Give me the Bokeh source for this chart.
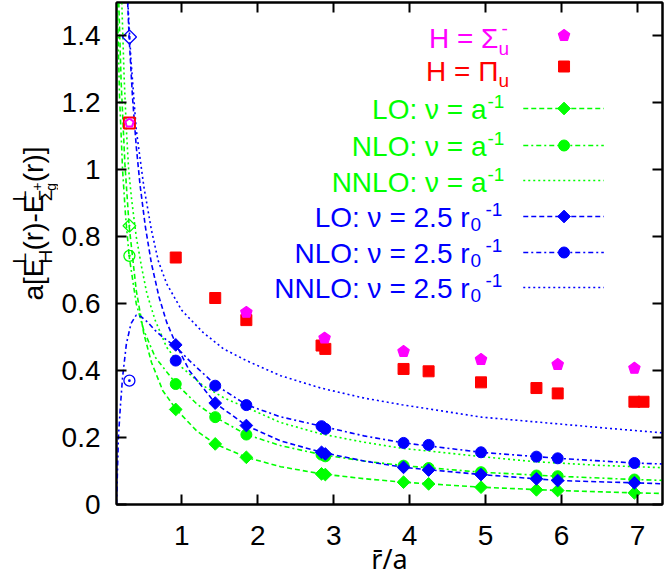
import numpy as np
from bokeh.plotting import figure
from bokeh.layouts import row
from bokeh.models import Label, LinearAxis, FixedTicker, Range1d
from bokeh.embed import file_html
from bokeh.resources import INLINE

# ---------------- data ----------------
r_pts = [0.92, 1.44, 1.85, 2.84, 2.89, 3.92, 4.25, 4.94, 5.67, 5.95, 6.96, 7.08]
pi_u = [0.738, 0.617, 0.551, 0.475, 0.465, 0.405, 0.398, 0.365, 0.348, 0.332, 0.307, 0.307]
r_sig = [1.85, 2.88, 3.92, 4.94, 5.95, 6.96]
sigma_u = [0.574, 0.497, 0.457, 0.433, 0.418, 0.407]

r_pert = [0.92, 1.44, 1.85, 2.84, 2.89, 3.92, 4.25, 4.94, 5.67, 5.95, 6.96]
lo_a = [0.284, 0.181, 0.141, 0.0915, 0.0895, 0.0667, 0.0617, 0.0517, 0.0438, 0.0418, 0.0348]
nlo_a = [0.360, 0.261, 0.209, 0.149, 0.144, 0.116, 0.109, 0.0965, 0.0866, 0.0845, 0.0746]
lo_r0 = [0.477, 0.303, 0.236, 0.156, 0.151, 0.111, 0.103, 0.0895, 0.0766, 0.0716, 0.0647]
nlo_r0 = [0.430, 0.355, 0.297, 0.234, 0.226, 0.184, 0.178, 0.156, 0.143, 0.138, 0.124]

r_small = [0.31]
pi_small = [1.14]
sig_small = [1.14]
lo_a_small = [0.833]
nlo_a_small = [0.743]
lo_r0_small = [1.397]
nlo_r0_small = [0.370]

c_lo_a_x = [0.17, 0.2, 0.25, 0.306, 0.4, 0.5, 0.6, 0.75, 0.927, 1.2, 1.44, 1.85, 2.3, 2.84, 3.4, 3.92, 4.94, 5.95, 6.96, 7.33]
c_lo_a_y = [1.5, 1.27, 1.02, 0.833, 0.64, 0.51, 0.425, 0.34, 0.284, 0.219, 0.181, 0.141, 0.113, 0.0915, 0.077, 0.0667, 0.0517, 0.0418, 0.0348, 0.033]
c_nlo_a_x = [0.15, 0.18, 0.22, 0.26, 0.306, 0.4, 0.5, 0.65, 0.927, 1.2, 1.44, 1.85, 2.3, 2.84, 3.4, 3.92, 4.94, 5.95, 6.96, 7.33]
c_nlo_a_y = [1.5, 1.22, 1.0, 0.86, 0.743, 0.6, 0.52, 0.44, 0.36, 0.3, 0.261, 0.209, 0.176, 0.149, 0.13, 0.116, 0.0965, 0.0845, 0.0746, 0.072]
c_nnlo_a_x = [0.21, 0.24, 0.27, 0.3, 0.34, 0.40, 0.47, 0.54, 0.65, 0.8, 1.0, 1.28, 1.56, 1.85, 2.3, 2.83, 3.4, 3.9, 4.95, 5.64, 6.5, 7.33]
c_nnlo_a_y = [1.5, 1.28, 1.12, 1.0, 0.91, 0.8, 0.71, 0.63, 0.55, 0.47, 0.41, 0.355, 0.318, 0.29, 0.245, 0.211, 0.186, 0.168, 0.143, 0.128, 0.117, 0.110]
c_lo_r0_x = [0.287, 0.306, 0.35, 0.4, 0.45, 0.52, 0.6, 0.7, 0.8, 0.927, 1.1, 1.44, 1.85, 2.3, 2.84, 3.4, 3.92, 4.94, 5.95, 6.96, 7.33]
c_lo_r0_y = [1.5, 1.397, 1.22, 1.07, 0.955, 0.83, 0.72, 0.62, 0.545, 0.477, 0.40, 0.303, 0.236, 0.19, 0.156, 0.13, 0.111, 0.0895, 0.0716, 0.0647, 0.062]
c_nlo_r0_x = [0.14, 0.15, 0.165, 0.19, 0.22, 0.27, 0.33, 0.40, 0.46, 0.55, 0.65, 0.75, 0.927, 1.1, 1.44, 1.85, 2.3, 2.84, 3.4, 3.92, 4.94, 5.95, 6.96, 7.33]
c_nlo_r0_y = [0.0, 0.08, 0.2, 0.29, 0.38, 0.48, 0.54, 0.566, 0.562, 0.545, 0.52, 0.5, 0.47, 0.43, 0.358, 0.298, 0.262, 0.234, 0.205, 0.184, 0.156, 0.138, 0.124, 0.121]
c_nnlo_r0_x = [0.29, 0.33, 0.4, 0.5, 0.6, 0.69, 0.8, 1.0, 1.28, 1.55, 1.85, 2.3, 2.83, 3.4, 3.9, 4.95, 5.95, 6.6, 7.33]
c_nnlo_r0_y = [1.5, 1.33, 1.12, 0.95, 0.82, 0.728, 0.66, 0.58, 0.514, 0.465, 0.43, 0.385, 0.348, 0.318, 0.298, 0.261, 0.241, 0.228, 0.214]

x_ticks = [1, 2, 3, 4, 5, 6, 7]
y_ticks = [0, 0.2, 0.4, 0.6, 0.8, 1.0, 1.2, 1.4]
y_tick_labels = ["0", "0.2", "0.4", "0.6", "0.8", "1", "1.2", "1.4"]
x_title = "r\u0304/a"

# ---------------- styling ----------------
GREEN = "#00ff00"
BLUE = "#0000ff"
RED = "#ff0000"
MAGENTA = "#ff00ff"
FONT = "Liberation Sans"
FS = 28
SUB = 19
DASH = "5 3"
DASHDOT = "5 3 2 3"
DOT = "2 3"
LW = 1.6

W, H = 664, 581
YL_W = 58          # width of the strip that holds the y title
FL, FR, FT, FB = 113, 662, 2, 504   # frame edges in page pixels
XMIN, XMAX, YMIN, YMAX = 0.14, 7.33, 0.0, 1.5
PXX = (FR - FL) / (XMAX - XMIN)
PXY = (FB - FT) / (YMAX - YMIN)


def X(px):
    return XMIN + (px - FL) / PXX


def Y(py):
    return YMIN + (FB - py) / PXY


p = figure(width=W - YL_W, height=H, output_backend="svg", toolbar_location=None,
           x_range=Range1d(XMIN, XMAX), y_range=Range1d(YMIN, YMAX),
           min_border_left=FL - YL_W, min_border_right=W - FR, min_border_top=FT,
           min_border_bottom=H - FB)
p.grid.visible = False
p.outline_line_color = "black"
p.outline_line_width = 2
p.background_fill_color = "white"
p.border_fill_color = "white"


def style_axis(ax, ticks, labels):
    ax.ticker = FixedTicker(ticks=ticks)
    ax.major_tick_in = 10
    ax.major_tick_out = 0
    ax.minor_tick_line_color = None
    ax.major_tick_line_width = 2
    ax.axis_line_width = 2
    ax.major_label_text_font = FONT
    if labels is None:
        ax.major_label_overrides = {t: "" for t in ticks}
        ax.major_label_text_font_size = "1px"
        ax.major_label_standoff = 0
    else:
        ax.major_label_overrides = {t: s for t, s in zip(ticks, labels)}
        ax.major_label_text_font_size = f"{FS}px"
        ax.major_label_text_color = "black"


xa = p.xaxis[0]
style_axis(xa, x_ticks, [str(t) for t in x_ticks])
xa.major_label_standoff = 21
xa.axis_label = x_title
xa.axis_label_text_font = "Noto Sans"
xa.axis_label_text_font_size = "27px"
xa.axis_label_text_font_style = "normal"
xa.axis_label_text_color = "black"
xa.axis_label_standoff = -8

style_axis(p.yaxis[0], y_ticks, y_tick_labels)
p.yaxis[0].major_label_standoff = 16

top = LinearAxis()
style_axis(top, x_ticks, None)
p.add_layout(top, "above")
right = LinearAxis()
style_axis(right, y_ticks, None)
p.add_layout(right, "right")

# ---------------- curves ----------------
p.line(c_lo_a_x, c_lo_a_y, color=GREEN, line_width=LW, line_dash=DASH)
p.line(c_nlo_a_x, c_nlo_a_y, color=GREEN, line_width=LW, line_dash=DASHDOT)
p.line(c_nnlo_a_x, c_nnlo_a_y, color=GREEN, line_width=LW, line_dash=DOT)
p.line(c_lo_r0_x, c_lo_r0_y, color=BLUE, line_width=LW, line_dash=DASH)
p.line(c_nlo_r0_x, c_nlo_r0_y, color=BLUE, line_width=LW, line_dash=DASHDOT)
p.line(c_nnlo_r0_x, c_nnlo_r0_y, color=BLUE, line_width=LW, line_dash=DOT)


def pentagons(xs, ys, color, filled, rad=6.0, lw=1.2):
    ang = np.pi / 2 + 2 * np.pi * np.arange(5) / 5
    pxs = [list(x + rad * np.cos(ang) / PXX) for x in xs]
    pys = [list(y + rad * np.sin(ang) / PXY) for y in ys]
    p.patches(pxs, pys, fill_color=color if filled else None, line_color=color,
              line_width=lw)


DIAM = dict(marker="square", angle=np.pi / 4, size=9)
CIRC = dict(marker="circle", size=11)

# ---------------- points ----------------
p.scatter(r_pert, lo_a, color=GREEN, **DIAM)
p.scatter(r_pert, nlo_a, color=GREEN, **CIRC)
p.scatter(r_pert, lo_r0, color=BLUE, **DIAM)
p.scatter(r_pert, nlo_r0, color=BLUE, **CIRC)
p.scatter(r_pts, pi_u, marker="square", size=11, color=RED)
pentagons(r_sig, sigma_u, MAGENTA, True)

p.scatter(r_small, lo_a_small, marker="square_dot", angle=np.pi / 4, size=9,
          fill_color=None, line_color=GREEN, line_width=1.3)
p.scatter(r_small, nlo_a_small, marker="circle_dot", size=11, fill_color=None,
          line_color=GREEN, line_width=1.3)
p.scatter(r_small, lo_r0_small, marker="square_dot", angle=np.pi / 4, size=10,
          fill_color=None, line_color=BLUE, line_width=1.3)
p.scatter(r_small, nlo_r0_small, marker="circle_dot", size=11, fill_color=None,
          line_color=BLUE, line_width=1.3)
p.scatter(r_small, pi_small, marker="square", size=11, fill_color=None,
          line_color=RED, line_width=2)
pentagons(r_small, sig_small, MAGENTA, False, rad=4.5, lw=2)


def label(fig, txt, x, y, size, color, align="left", baseline="middle", angle=0.0):
    fig.add_layout(Label(x=x, y=y, text=txt, text_color=color,
                         text_font=FONT, text_font_size=f"{size}px",
                         text_align=align, text_baseline=baseline, angle=angle))


# ---------------- legend ----------------
LX0, LX1, LM = 522, 603, 563
label(p, "H = \u03a3", X(497), Y(38), FS, MAGENTA, align="right")
label(p, "-", X(500), Y(28), SUB, MAGENTA)
label(p, "u", X(497), Y(48), SUB, MAGENTA)
pentagons([X(LM)], [Y(35)], MAGENTA, True)
label(p, "H = \u03a0", X(497), Y(71), FS, RED, align="right")
label(p, "u", X(497), Y(80), SUB, RED)
p.scatter([X(LM)], [Y(66)], marker="square", size=11, color=RED)

rows_a = [("LO: \u03bd = a", 109, 108, DASH, DIAM),
          ("NLO: \u03bd = a", 146, 145, DASHDOT, CIRC),
          ("NNLO: \u03bd = a", 182, 180, DOT, None)]
for txt, ty, ly, dash, mk in rows_a:
    label(p, txt, X(485), Y(ty), FS, GREEN, align="right")
    label(p, "-1", X(486), Y(ty - 8), SUB, GREEN)
    p.segment(x0=[X(LX0)], y0=[Y(ly)], x1=[X(LX1)], y1=[Y(ly)], color=GREEN,
              line_width=LW, line_dash=dash)
    if mk:
        p.scatter([X(LM)], [Y(ly)], color=GREEN, **mk)

rows_r = [("LO: \u03bd = 2.5 r", 217, 216, DASH, DIAM),
          ("NLO: \u03bd = 2.5 r", 253, 252, DASHDOT, CIRC),
          ("NNLO: \u03bd = 2.5 r", 288, 287, DOT, None)]
for txt, ty, ly, dash, mk in rows_r:
    label(p, txt, X(468), Y(ty), FS, BLUE, align="right")
    label(p, "0", X(469), Y(ty + 7), SUB, BLUE)
    label(p, "-1", X(484), Y(ty - 8), SUB, BLUE)
    p.segment(x0=[X(LX0)], y0=[Y(ly)], x1=[X(LX1)], y1=[Y(ly)], color=BLUE,
              line_width=LW, line_dash=dash)
    if mk:
        p.scatter([X(LM)], [Y(ly)], color=BLUE, **mk)


# ---------------- y title strip (page-pixel coordinates) ----------------
ys = figure(width=YL_W, height=H, output_backend="svg", toolbar_location=None,
            x_range=Range1d(0, YL_W), y_range=Range1d(H, 0),
            min_border=0, min_border_left=0, min_border_right=0,
            min_border_top=0, min_border_bottom=0)
ys.axis.visible = False
ys.grid.visible = False
ys.outline_line_color = None
ys.background_fill_color = "white"
ys.border_fill_color = "white"

ang = np.pi / 2
MC, SC, BC = 33, 19, 45
label(ys, "a[E", MC, 345, FS, "black", angle=ang)
label(ys, "L", SC, 302, SUB, "black", angle=ang)
label(ys, "H", BC, 302, SUB, "black", angle=ang)
label(ys, "(r)-E", MC, 287, FS, "black", angle=ang)
label(ys, "L", SC, 230, SUB, "black", angle=ang)
label(ys, "\u03a3", BC, 230, SUB, "black", angle=ang)
label(ys, "g", 50, 218, 14, "black", angle=ang)
label(ys, "+", 36, 218, 14, "black", angle=ang)
label(ys, "(r)]", MC, 208, FS, "black", angle=ang)

layout = row(ys, p)
open("out.html", "w").write(file_html(layout, INLINE))
